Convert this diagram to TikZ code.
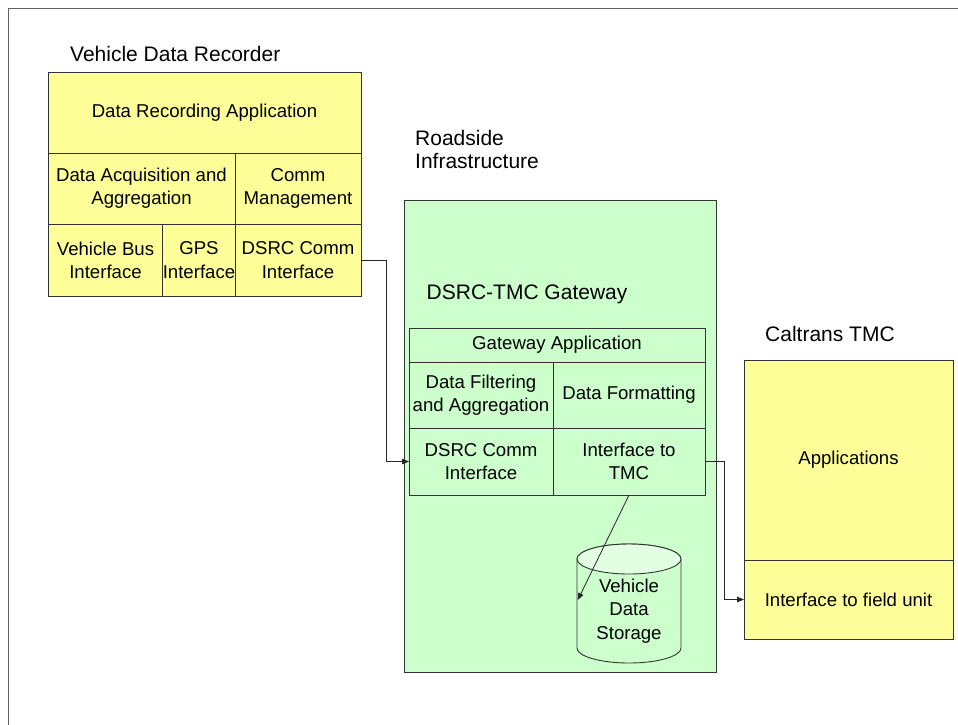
\documentclass[tikz,border=0pt]{standalone}
\usepackage{fontspec}
\setmainfont{Liberation Sans}
\usetikzlibrary{arrows.meta,calc}
\definecolor{yel}{HTML}{FFFF99}
\definecolor{grn}{HTML}{CCFFCC}
\definecolor{grnlt}{HTML}{E2FFE2}
\definecolor{edge}{HTML}{333333}
\begin{document}
\begin{tikzpicture}[x=1pt,y=-1pt,
  cell/.style={draw=edge, line width=0.9pt, inner sep=0pt, outer sep=0pt, align=center,
    font=\fontsize{18.6}{23.3}\selectfont},
  ycell/.style={cell, fill=yel},
  gcell/.style={cell, fill=grn},
  title/.style={anchor=base west, inner sep=0pt, font=\fontsize{21}{22.7}\selectfont, align=left},
  conn/.style={draw=black!85, line width=0.8pt, -{Triangle[length=7pt,width=5.5pt]}},
  frame/.style={draw=gray!75!black, line width=1.6pt}]
\useasboundingbox (0,0) rectangle (958,724);
\fill[white] (0,0) rectangle (958,724);
\draw[frame] (8.5,740) -- (8.5,8.5) -- (970,8.5);

% Vehicle Data Recorder
\node[title] (vdrt) at (70,61.5) {Vehicle Data Recorder};
\node[ycell, minimum width=313, minimum height=81] (dra) at (204.5,112.5) {Data Recording Application};
\node[ycell, minimum width=187, minimum height=71] (daa) at (141.5,188.5) {Data Acquisition and\\Aggregation};
\node[ycell, minimum width=126, minimum height=71] (cm) at (298,188.5) {Comm\\Management};
\node[ycell, minimum width=115, minimum height=72] (vbi) at (105.5,260) {Vehicle Bus\\Interface};
\node[ycell, minimum width=72, minimum height=72] (gps) at (199,260) {GPS\\Interface};
\node[ycell, minimum width=126, minimum height=72] (dsrc1) at (298,260) {DSRC Comm\\Interface};

% Roadside Infrastructure
\node[title] (rit) at (415,168.3) {Roadside\\Infrastructure};
\node[gcell, minimum width=312, minimum height=472] (rsu) at (560,436) {};
\node[title] (gwt) at (426.5,299) {DSRC-TMC Gateway};
\node[gcell, minimum width=296, minimum height=34] (ga) at (557,345) {Gateway Application};
\node[gcell, minimum width=144, minimum height=66] (dfa) at (481,395) {Data Filtering\\and Aggregation};
\node[gcell, minimum width=152, minimum height=66] (df) at (629,395) {Data Formatting};
\node[gcell, minimum width=144, minimum height=67] (dsrc2) at (481,461.5) {DSRC Comm\\Interface};
\node[gcell, minimum width=152, minimum height=67] (itmc) at (629,461.5) {Interface to\\TMC};

% Vehicle Data Storage cylinder
\path[fill=grn, draw=edge, line width=0.9pt]
  (577,559) -- (577,648) arc[start angle=180, end angle=0, x radius=52, y radius=15]
  -- (681,559) arc[start angle=0, end angle=-180, x radius=52, y radius=15] -- cycle;
\path[fill=grnlt, draw=edge, line width=0.9pt] (629,559) ellipse[x radius=52, y radius=15];
\node[inner sep=0pt, minimum width=104, minimum height=104] (vds) at (629,611) {};
\node[cell, draw=none] (vdst) at (629,611) {Vehicle\\Data\\Storage};

% Caltrans TMC
\node[title] (ctt) at (765,341.7) {Caltrans TMC};
\node[ycell, minimum width=209, minimum height=200] (apps) at (848.5,460) {Applications};
\node[ycell, minimum width=209, minimum height=79] (ifu) at (848.5,599.5) {Interface to field unit};

% Connectors
\draw[conn] (dsrc1.east) -- ++(25,0) |- (dsrc2.west);
\draw[conn] (itmc.east) -- ++(19,0) |- (ifu.west);
\draw[conn] (itmc.south) -- ($(vds.west)+(1,-11)$);
\end{tikzpicture}
\end{document}
